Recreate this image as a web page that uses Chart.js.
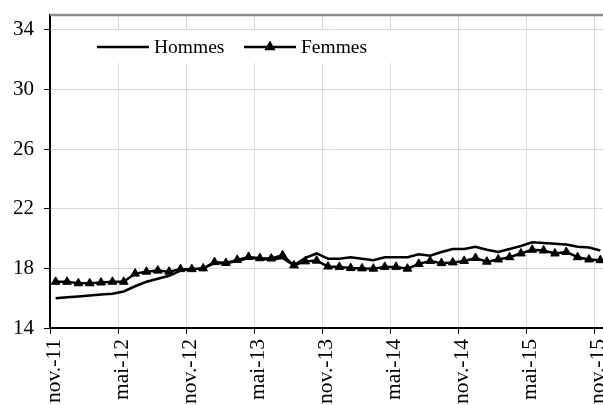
<!DOCTYPE html>
<html>
<head>
<meta charset="utf-8">
<script src="https://cdn.jsdelivr.net/npm/chart.js@4/dist/chart.umd.min.js"></script>
<style>
  html, body { margin: 0; padding: 0; background: #fff; overflow: hidden; }
  #wrap { width: 612px; height: 405px; }
</style>
</head>
<body>
<div id="wrap"><canvas id="myChart" width="612" height="405"></canvas></div>
<script>
// monthly values, nov.-11 .. nov.-15
var months = ['nov.-11','déc.-11','janv.-12','févr.-12','mars-12','avr.-12','mai-12','juin-12','juil.-12','août-12','sept.-12','oct.-12',
              'nov.-12','déc.-12','janv.-13','févr.-13','mars-13','avr.-13','mai-13','juin-13','juil.-13','août-13','sept.-13','oct.-13',
              'nov.-13','déc.-13','janv.-14','févr.-14','mars-14','avr.-14','mai-14','juin-14','juil.-14','août-14','sept.-14','oct.-14',
              'nov.-14','déc.-14','janv.-15','févr.-15','mars-15','avr.-15','mai-15','juin-15','juil.-15','août-15','sept.-15','oct.-15',
              'nov.-15'];

var hommes = [16.0, 16.07, 16.12, 16.18, 16.25, 16.3, 16.45, 16.8, 17.1, 17.3, 17.5, 17.85,
              17.95, 18.0, 18.35, 18.35, 18.5, 18.7, 18.65, 18.6, 18.7, 18.2, 18.7, 19.0,
              18.65, 18.65, 18.75, 18.65, 18.55, 18.75, 18.75, 18.75, 18.95, 18.85, 19.1, 19.3,
              19.3, 19.45, 19.25, 19.1, 19.3, 19.5, 19.75, 19.7, 19.65, 19.6, 19.45, 19.4,
              19.2];

var femmes = [17.1, 17.1, 17.0, 17.0, 17.05, 17.1, 17.1, 17.65, 17.78, 17.85, 17.78, 17.95,
              17.95, 18.0, 18.42, 18.36, 18.57, 18.77, 18.68, 18.66, 18.88, 18.2, 18.47, 18.52,
              18.12, 18.1, 18.02, 18.0, 17.98, 18.1, 18.1, 17.98, 18.3, 18.5, 18.35, 18.4,
              18.5, 18.7, 18.45, 18.6, 18.75, 19.0, 19.25, 19.2, 19.0, 19.1, 18.75, 18.6,
              18.55];

var xTickLabels = ['nov.-11','mai-12','nov.-12','mai-13','nov.-13','mai-14','nov.-14','mai-15','nov.-15'];
var yTicks = [14, 18, 22, 26, 30, 34];

var FONT = '"Liberation Serif", "Times New Roman", serif';

function toPoints(values){
    var pts = [];
    for(var i = 0; i < values.length; i++){
        pts.push({x: i + 0.5, y: values[i]});   // point sits in the middle of its month
    }
    return pts;
}

// legend drawn inside the plot on a white box, like the original
var insideLegend = {
    id: 'insideLegend',
    beforeDatasetsDraw: function(chart){
        var ctx = chart.ctx;
        var ds = chart.data.datasets;
        ctx.save();
        ctx.fillStyle = '#fff';
        ctx.fillRect(77, 30, 318, 33);

        var y = 47;
        var items = [{x: 97, ds: ds[0]}, {x: 244, ds: ds[1]}];
        ctx.font = '19.5px ' + FONT;
        ctx.textBaseline = 'middle';
        for(var k = 0; k < items.length; k++){
            var it = items[k];
            ctx.strokeStyle = '#000';
            ctx.lineWidth = 2.5;
            ctx.beginPath();
            ctx.moveTo(it.x, y);
            ctx.lineTo(it.x + 52, y);
            ctx.stroke();
            if(it.ds.pointStyle === 'triangle'){
                Chart.helpers.drawPoint(ctx, {pointStyle: 'triangle', radius: 4, borderWidth: 1}, it.x + 26, y);
                ctx.fillStyle = '#000';
                ctx.fill();
            }
            ctx.fillStyle = '#000';
            ctx.fillText(it.ds.label, it.x + 57, y + 1);
        }
        ctx.restore();
    },
    afterDraw: function(chart){
        // grey frame line on top of the plot
        var a = chart.chartArea;
        var ctx = chart.ctx;
        ctx.save();
        ctx.strokeStyle = '#8c8c8c';
        ctx.lineWidth = 2.5;
        ctx.beginPath();
        ctx.moveTo(a.left, a.top);
        ctx.lineTo(a.right + 5, a.top);
        ctx.stroke();
        ctx.restore();
    }
};

const data = {
    datasets: [
        {
            label: 'Hommes',
            data: toPoints(hommes),
            borderColor: '#000',
            backgroundColor: '#000',
            borderWidth: 2.5,
            pointRadius: 0,
            tension: 0
        },
        {
            label: 'Femmes',
            data: toPoints(femmes),
            borderColor: '#000',
            backgroundColor: '#000',
            borderWidth: 2.5,
            pointStyle: 'triangle',
            pointRadius: 5,
            pointBorderWidth: 1,
            tension: 0
        }
    ]
};

const config = {
    type: 'line',
    data: data,
    plugins: [insideLegend],
    options: {
        responsive: false,
        animation: false,
        layout: { padding: { top: 15, right: 2, left: 0, bottom: 0 } },
        plugins: {
            legend: { display: false },
            tooltip: { enabled: false }
        },
        scales: {
            x: {
                type: 'linear',
                min: 0,
                max: 49,
                afterBuildTicks: function(scale){
                    scale.ticks = xTickLabels.map(function(l, i){ return {value: i * 6}; });
                },
                afterFit: function(scale){
                    scale.height = 77;
                    scale.paddingLeft = 0;
                    scale.paddingRight = 0;
                },
                ticks: {
                    color: '#000',
                    font: { family: FONT, size: 21.5 },
                    minRotation: 90,
                    maxRotation: 90,
                    padding: 5,
                    labelOffset: 4,
                    callback: function(value){ return xTickLabels[Math.round(value / 6)]; }
                },
                grid: { color: '#d9d9d9', lineWidth: 1, tickColor: '#000', tickLength: 6 },
                border: { color: '#000', width: 2 }
            },
            y: {
                type: 'linear',
                min: 14,
                max: 35,
                afterBuildTicks: function(scale){
                    scale.ticks = yTicks.map(function(v){ return {value: v}; });
                },
                afterFit: function(scale){
                    scale.width = 50;
                    scale.paddingTop = 0;
                    scale.paddingBottom = 0;
                },
                ticks: {
                    color: '#000',
                    font: { family: FONT, size: 21 },
                    padding: 10
                },
                grid: { color: '#d9d9d9', lineWidth: 1, tickColor: '#000', tickLength: 6 },
                border: { color: '#000', width: 2 }
            }
        }
    }
};

document.addEventListener('DOMContentLoaded', function() {
    const myChart = new Chart(document.getElementById('myChart'), config);
});
</script>
</body>
</html>
